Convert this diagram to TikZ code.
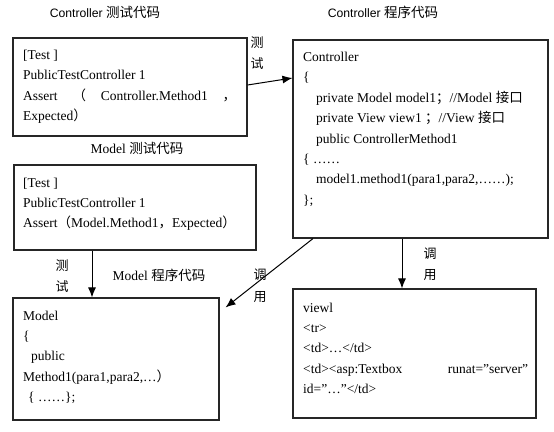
\documentclass[tikz,border=0pt]{standalone}
\usepackage{fontspec}
\setmainfont{Liberation Serif}
\newfontfamily\cjk{Noto Sans CJK SC}
\newfontfamily\arialf{Liberation Sans}
\usetikzlibrary{arrows.meta}
\newcommand\zh[1]{{\cjk #1}}
\begin{document}
\begin{tikzpicture}[x=1pt,y=-1pt,
  box/.style={draw=black!85, line width=1.1pt, inner sep=0pt, rectangle},
  bodytext/.style={anchor=north west, inner sep=0pt, align=left,
    font=\fontsize{13.5}{20.4}\selectfont},
  title/.style={inner sep=0pt, font=\fontsize{13.5}{16}\selectfont},
  vlabel/.style={inner sep=0pt, align=center, font=\fontsize{13}{21.5}\selectfont\cjk},
  conn/.style={line width=1pt, -{Latex[length=10pt,width=8pt]}}]
\useasboundingbox (0,0) rectangle (554,431);
% boxes
\node[box, minimum width=234pt, minimum height=98pt] (b1) at (130,87) {};
\node[box, minimum width=255pt, minimum height=198pt] (b2) at (420.5,139) {};
\node[box, minimum width=242pt, minimum height=85pt] (b3) at (135,207.5) {};
\node[box, minimum width=206pt, minimum height=122pt] (b4) at (116,359) {};
\node[box, minimum width=243pt, minimum height=129pt] (b5) at (414.5,353.5) {};
% titles
\node[title] (t1) at (105,12) {{\fontsize{12.2}{16}\selectfont\arialf Controller} \zh{测试代码}};
\node[title] (t2) at (383,12) {{\fontsize{12.2}{16}\selectfont\arialf Controller} \zh{程序代码}};
\node[title] (t3) at (137,148) {Model \zh{测试代码}};
\node[title] (t4) at (159,275) {Model \zh{程序代码}};
% contents
\node[bodytext] (c1) at (23,45.1) {\strut[Test ]\\
PublicTestController 1\\
\makebox[213pt][l]{Assert\hfill\zh{（}\hfill Controller.Method1\hfill\zh{，}}\\
Expected\zh{）}};
\node[bodytext] (c2) at (303,47.1) {\strut Controller\\
\{\\
\hspace*{13pt}private Model model1\zh{；}//Model \zh{接口}\\
\hspace*{13pt}private View view1 \zh{；}//View \zh{接口}\\
\hspace*{13pt}public ControllerMethod1\\
\{ ……\\
\hspace*{13pt}model1.method1(para1,para2,……);\\
\};};
\node[bodytext] (c3) at (23,172.6) {\strut[Test ]\\
PublicTestController 1\\
Assert\zh{（}Model.Method1\zh{，}Expected\zh{）}};
\node[bodytext] (c4) at (23,305.6) {\strut Model\\
\{\\
\hspace*{8pt}public\\
Method1(para1,para2,…\zh{）}\\
\hspace*{5pt}\{ ……\};};
\node[bodytext] (c5) at (303,297.6) {\strut viewl\\
<tr>\\
<td>…</td>\\
\makebox[225pt][l]{<td><asp:Textbox\hfill runat=”server”}\\
id=”…”</td>};
% connectors
\draw[conn] ([yshift=2pt]b1.east) -- ([yshift=61pt]b2.west);
\draw[conn] ([xshift=-43pt]b3.south) -- ([xshift=-43pt]b3.south |- b4.north);
\draw[conn] ([xshift=-107.5pt]b2.south) -- ([xshift=6pt,yshift=-10pt]b4.north east);
\draw[conn] ([xshift=-18.5pt]b2.south) -- ([xshift=-18.5pt]b2.south |- b5.north);
% labels
\node[vlabel] (l1) at (257,53) {测\\试};
\node[vlabel] (l2) at (62,276) {测\\试};
\node[vlabel] (l3) at (260,285.5) {调\\用};
\node[vlabel] (l4) at (430,264) {调\\用};
\end{tikzpicture}
\end{document}
